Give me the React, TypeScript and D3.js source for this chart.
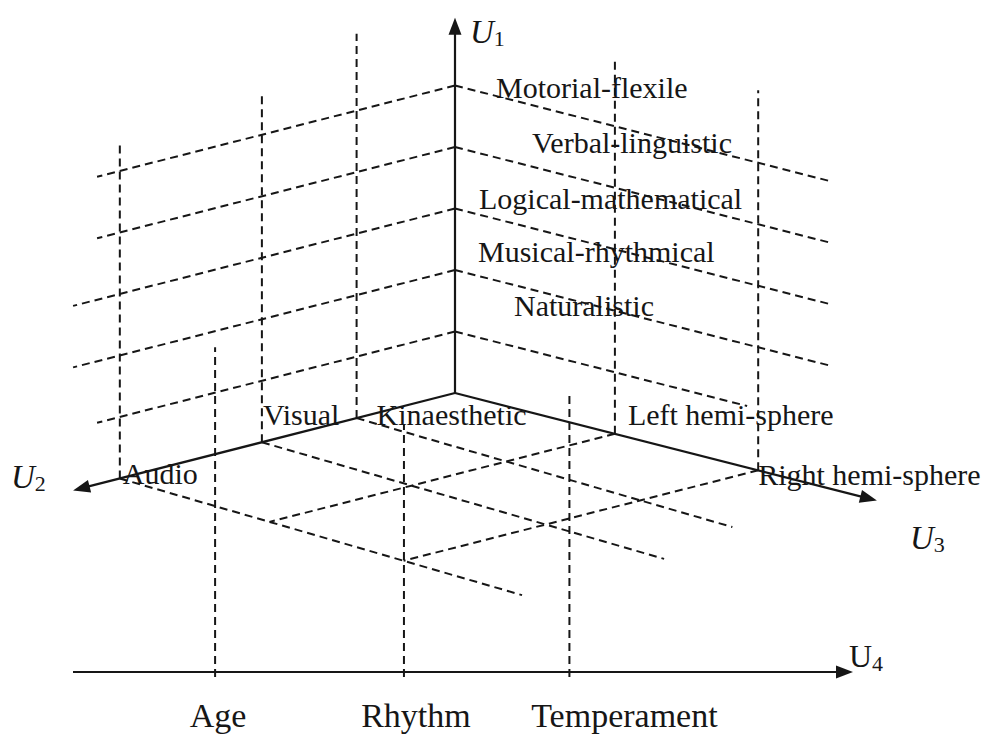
import React from 'react';
import * as d3 from 'd3';

// U1 levels, bottom to top
const u1Levels = [1, 2, 3, 4, 5];
const u1Labels = ['Naturalistic', 'Musical-rhythmical', 'Logical-mathematical', 'Verbal-linguistic', 'Motorial-flexile'];
// U2 categories (near origin -> far)
const u2Labels = ['Kinaesthetic', 'Visual', 'Audio'];
const u2Pos = [1.6, 3.14, 5.45];
// U3 categories
const u3Labels = ['Left hemi-sphere', 'Right hemi-sphere'];
const u3Pos = [2.6, 4.93];
// U4 categories
const u4Labels = ['Age', 'Rhythm', 'Temperament'];
const u4Pos = [2.31, 5.38, 8.07];

// how far each dashed guide reaches, in axis units
const leftWallReach = [5.82, 6.21, 6.21, 5.82, 5.82];
const rightWallReach = [4.75, 6.1, 6.1, 6.1, 6.1];
const u2Heights = [6.25, 5.63, 5.45];
const u3Heights = [6.13, 6.18];
const floorReach = [6.11, 6.54, 6.54];
const u4Heights = [5.28, 4.03, 4.52];

// axis lengths
const axisLen = { u1: 6.1, u2: 6.21, u3: 6.86, u4: 12.68 };

const W = 993, H = 736;
const FONT = '"Liberation Serif", "Times New Roman", serif';
const INK = '#161616';

export default function App() {
  const O = { x: 455, y: 393 };
  const u4Y = 672;
  const k2 = 0.255, k3 = 0.255, kf = 0.29;
  const s = d3.scaleLinear().domain([0, 1]).range([0, 61.5]);
  const x4 = d3.scaleLinear().domain([0, axisLen.u4]).range([73, 853]);

  const proj = (u1: number, u2: number, u3: number): [number, number] => [
    O.x - s(u2) + s(u3),
    O.y - s(u1) + k2 * s(u2) + k3 * s(u3),
  ];
  const line = d3.line();

  const dashed = { stroke: INK, strokeWidth: 2, strokeDasharray: '8 5', fill: 'none' };
  const solid = { stroke: INK, strokeWidth: 2.2, fill: 'none' };

  const arrow = (tip: [number, number], from: [number, number]) => {
    const dx = tip[0] - from[0], dy = tip[1] - from[1];
    const L = Math.hypot(dx, dy);
    const ux = dx / L, uy = dy / L;
    const len = 17, hw = 6.5;
    const bx = tip[0] - ux * len, by = tip[1] - uy * len;
    return `M${tip[0]},${tip[1]}L${bx - uy * hw},${by + ux * hw}L${bx + uy * hw},${by - ux * hw}Z`;
  };
  const shorten = (tip: [number, number], from: [number, number], d: number): [number, number] => {
    const dx = tip[0] - from[0], dy = tip[1] - from[1];
    const L = Math.hypot(dx, dy);
    return [tip[0] - (dx / L) * d, tip[1] - (dy / L) * d];
  };

  const o = proj(0, 0, 0);
  const t1 = proj(axisLen.u1, 0, 0);
  const t2 = proj(0, axisLen.u2, 0);
  const t3 = proj(0, 0, axisLen.u3);
  const t4s: [number, number] = [x4(0), u4Y];
  const t4: [number, number] = [x4(axisLen.u4), u4Y];

  // far floor line (from Audio) closes the U3 floor lines
  const audioStart = proj(0, u2Pos[2], 0);

  const u1Offsets: [number, number][] = [[59, -16], [23, -8], [24, 0], [77, 6], [41, 12.5]];
  const u2Offsets: [number, number][] = [[20, 7], [1, -17], [3, 6]];
  const u3Offsets: [number, number][] = [[13, -9], [0, 15]];
  const u4Offsets = [3, 12, 55];

  return (
    <svg width={W} height={H} style={{ position: 'absolute', left: 0, top: 0, background: '#fff' }}>
      <rect width={W} height={H} fill="#fff" />
      {/* left wall: U1 levels parallel to U2 */}
      {u1Levels.map((lv, i) => (
        <path key={`lw${i}`} d={line([proj(lv, 0, 0), proj(lv, leftWallReach[i], 0)]) ?? ''} {...dashed} />
      ))}
      {/* right wall: U1 levels parallel to U3 */}
      {u1Levels.map((lv, i) => (
        <path key={`rw${i}`} d={line([proj(lv, 0, 0), proj(lv, 0, rightWallReach[i])]) ?? ''} {...dashed} />
      ))}
      {/* verticals at U2 categories */}
      {u2Pos.map((p, i) => (
        <path key={`v2${i}`} d={line([proj(0, p, 0), proj(u2Heights[i], p, 0)]) ?? ''} {...dashed} />
      ))}
      {/* verticals at U3 categories */}
      {u3Pos.map((p, i) => (
        <path key={`v3${i}`} d={line([proj(0, 0, p), proj(u3Heights[i], 0, p)]) ?? ''} {...dashed} />
      ))}
      {/* floor: from U2 categories toward U3 */}
      {u2Pos.map((p, i) => {
        const a = proj(0, p, 0);
        const dx = s(floorReach[i]);
        return <path key={`f2${i}`} d={line([a, [O.x - s(p) + dx, a[1] + kf * dx]]) ?? ''} {...dashed} />;
      })}
      {/* floor: from U3 categories toward U2, ending on the audio line */}
      {u3Pos.map((p, i) => {
        const t = proj(0, 0, p);
        const x = (t[1] + k2 * t[0] - audioStart[1] + kf * audioStart[0]) / (kf + k2);
        const y = t[1] + k2 * (t[0] - x);
        return <path key={`f3${i}`} d={line([t, [x, y]]) ?? ''} {...dashed} />;
      })}
      {/* U4 guides */}
      {u4Pos.map((p, i) => (
        <path key={`g4${i}`} d={line([[x4(p), u4Y + 5], [x4(p), u4Y - s(u4Heights[i])]]) ?? ''} {...dashed} />
      ))}

      {/* axes */}
      <path d={line([o, shorten(t1, o, 10)]) ?? ''} {...solid} />
      <path d={arrow(t1, o)} fill={INK} />
      <path d={line([o, shorten(t2, o, 10)]) ?? ''} {...solid} />
      <path d={arrow(t2, o)} fill={INK} />
      <path d={line([o, shorten(t3, o, 10)]) ?? ''} {...solid} />
      <path d={arrow(t3, o)} fill={INK} />
      <path d={line([t4s, shorten(t4, t4s, 10)]) ?? ''} {...solid} />
      <path d={arrow(t4, t4s)} fill={INK} />

      <g fontFamily={FONT} fill={INK} fontSize={30}>
        {u1Levels.map((lv, i) => {
          const p = proj(lv, 0, 0);
          return <text key={`l1${i}`} x={p[0] + u1Offsets[i][0]} y={p[1] + u1Offsets[i][1]}>{u1Labels[i]}</text>;
        })}
        {u2Pos.map((v, i) => {
          const p = proj(0, v, 0);
          return <text key={`l2${i}`} x={p[0] + u2Offsets[i][0]} y={p[1] + u2Offsets[i][1]}>{u2Labels[i]}</text>;
        })}
        {u3Pos.map((v, i) => {
          const p = proj(0, 0, v);
          return <text key={`l3${i}`} x={p[0] + u3Offsets[i][0]} y={p[1] + u3Offsets[i][1]}>{u3Labels[i]}</text>;
        })}
        {u4Pos.map((v, i) => (
          <text key={`l4${i}`} x={x4(v) + u4Offsets[i]} y={727} fontSize={34} textAnchor="middle">{u4Labels[i]}</text>
        ))}

        <text x={t1[0] + 15} y={43} fontSize={33}>
          <tspan fontStyle="italic">U</tspan><tspan fontSize={22} dy={3}>1</tspan>
        </text>
        <text x={11} y={t2[1] - 2} fontSize={33}>
          <tspan fontStyle="italic">U</tspan><tspan fontSize={22} dy={3}>2</tspan>
        </text>
        <text x={910} y={t3[1] + 48} fontSize={33}>
          <tspan fontStyle="italic">U</tspan><tspan fontSize={22} dy={3}>3</tspan>
        </text>
        <text x={t4[0] - 4} y={u4Y - 5} fontSize={32}>
          <tspan>U</tspan><tspan fontSize={22} dy={4}>4</tspan>
        </text>
      </g>
    </svg>
  );
}
